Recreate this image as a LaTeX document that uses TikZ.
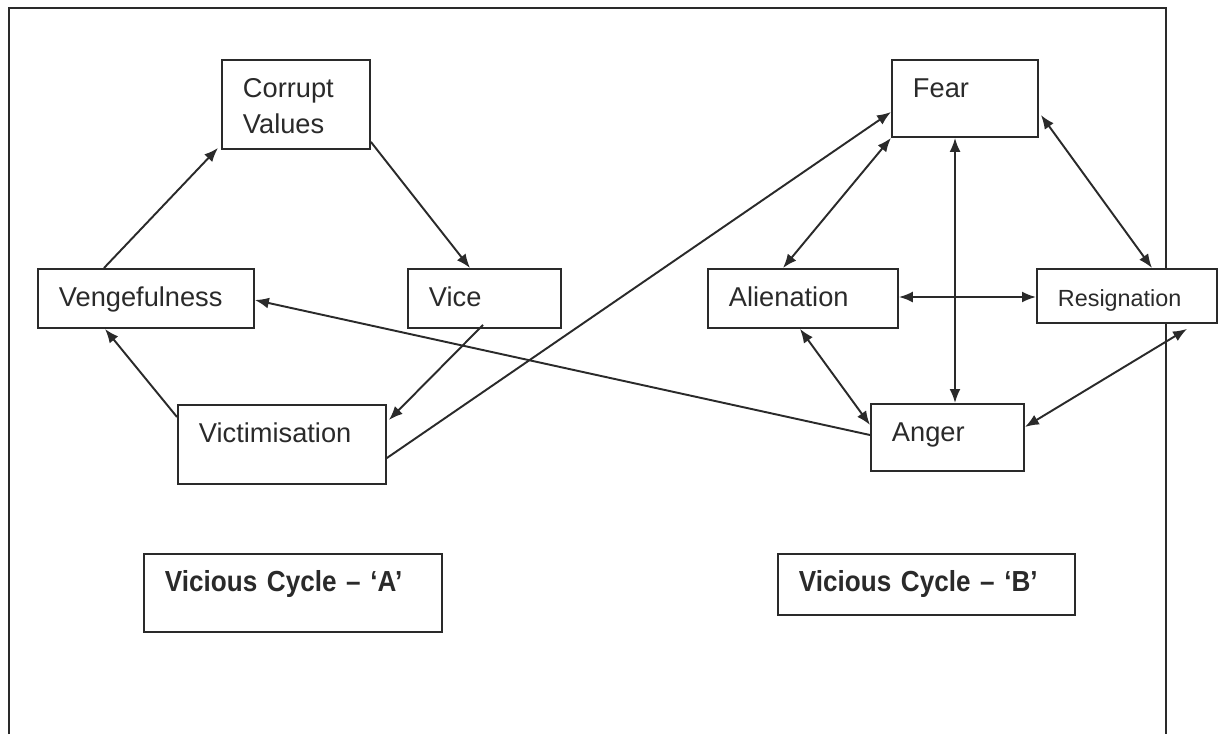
\documentclass[tikz,border=0pt]{standalone}
\usepackage{fontspec}
\setmainfont{Liberation Sans}
\newfontfamily\narrowsans[FakeStretch=0.9]{Liberation Sans}
\usetikzlibrary{arrows.meta,calc}
\definecolor{ink}{HTML}{2A2A2A}

\begin{document}
\begin{tikzpicture}[
  x=0.02cm, y=-0.02cm,
  every node/.style={font=\fontsize{15.5}{20.5}\selectfont, text=ink},
  cbox/.style={draw=ink, fill=white, line width=1.1pt, anchor=north west,
    inner xsep=0.42cm, inner ysep=0pt, text height=0.76cm, align=left},
  cyclebox/.style={cbox, font=\narrowsans\bfseries\fontsize{16.5}{20}\selectfont},
  link/.style={ink, line width=1.1pt, -{Latex[length=2.8mm,width=2.2mm]}},
  both/.style={ink, line width=1.1pt,
    {Latex[length=2.8mm,width=2.2mm]}-{Latex[length=2.8mm,width=2.2mm]}}
]
\useasboundingbox (0,0) rectangle (1222,734);
% Outer frame (open at the bottom).
\draw[ink, line width=0.8pt] (9,734) -- (9,8) -- (1166,8) -- (1166,734);

% Cycle A.
\node[cbox, text width=2.12cm, text depth=1.02cm] (cv) at (221,59) {Corrupt\\Values};
\node[cbox, text width=3.48cm, text depth=0.42cm] (veng) at (37,268) {Vengefulness};
\node[cbox, text width=2.22cm, text depth=0.42cm] (vice) at (407,268) {Vice};
\node[cbox, text width=3.32cm, text depth=0.82cm] (vict) at (177,404) {Victimisation};

% Cycle B.
\node[cbox, text width=2.08cm, text depth=0.78cm] (fear) at (891,59) {Fear};
\node[cbox, text width=2.96cm, text depth=0.42cm] (alien) at (707,268) {Alienation};
\node[cbox, text width=2.76cm, text depth=0.32cm,
  font=\fontsize{13.3}{16}\selectfont] (resig) at (1036,268) {Resignation};
\node[cbox, text width=2.22cm, text depth=0.58cm] (anger) at (870,403) {Anger};

% Captions.
\node[cyclebox, text width=5.12cm, text depth=0.80cm] (cycA) at (143,553) {Vicious Cycle – ‘A’};
\node[cyclebox, text width=5.10cm, text depth=0.46cm] (cycB) at (777,553) {Vicious Cycle – ‘B’};

% Links of cycle A.
\draw[link] ($(veng.north west)+(67,0)$) -- ($(cv.south west)+(-3,-2)$);
\draw[link] ($(cv.south east)+(0,-8)$) -- ($(vice.north west)+(63,0)$);
\draw[link] ($(vice.south west)+(76,-4)$) -- ($(vict.north east)+(2,16)$);
\draw[link] ($(vict.north west)+(0,13)$) -- ($(veng.south west)+(68,0)$);

% Links between the cycles.
\draw[link] ($(vict.north east)+(0,54)$) -- ($(fear.north west)+(0,53)$);
\draw[link] ($(anger.north west)+(0,32)$) -- ($(veng.north east)+(0,32)$);

% Links of cycle B.
\draw[both] (fear.south west) -- ($(alien.north west)+(76,0)$);
\draw[both] ($(fear.south west)+(64,0)$) -- ($(anger.north west)+(85,0)$);
\draw[both] ($(fear.north east)+(2,56)$) -- ($(resig.north west)+(116,0)$);
\draw[both] ($(alien.north east)+(0,29)$) -- ($(resig.north west)+(0,29)$);
\draw[both] ($(alien.south west)+(93,0)$) -- ($(anger.north west)+(0,22)$);
\draw[both] ($(resig.south west)+(151,5)$) -- ($(anger.north east)+(0,24)$);
\end{tikzpicture}
\end{document}
